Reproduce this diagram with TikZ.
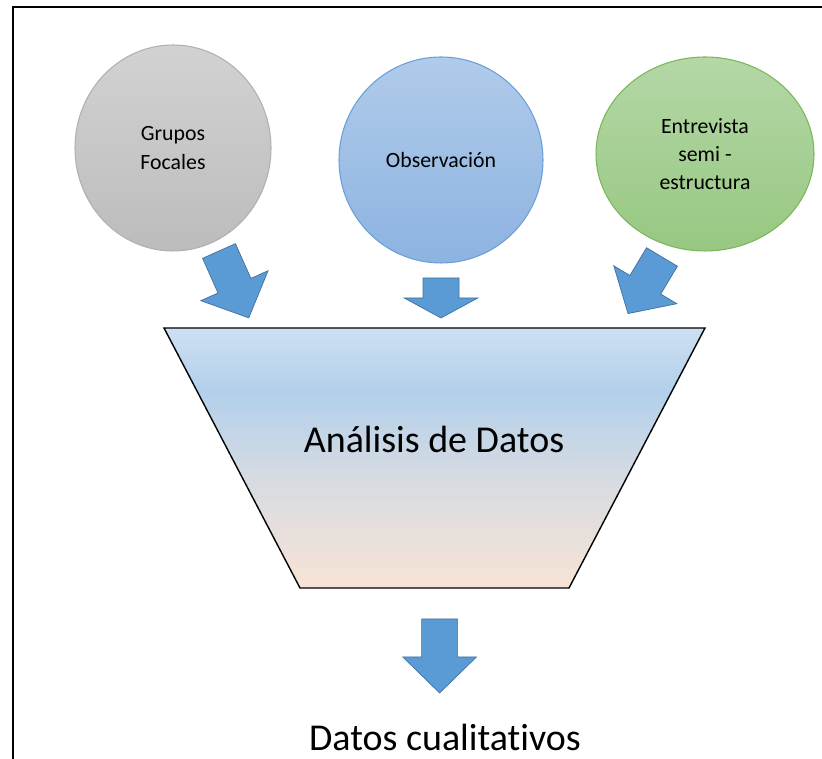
\documentclass[tikz,border=0pt]{standalone}
\usepackage{fontspec}
\setmainfont{Carlito}[Ligatures=NoCommon]
\usepackage{xcolor}
\usepackage{tikz}
\usetikzlibrary{shapes.geometric}

\definecolor{arrowblue}{HTML}{5B9BD5}
\definecolor{arrowedge}{HTML}{41719C}
\definecolor{graytop}{HTML}{D2D2D2}
\definecolor{graybot}{HTML}{BCBCBC}
\definecolor{grayedge}{HTML}{B0B0B0}
\definecolor{bluetop}{HTML}{B0CBEA}
\definecolor{bluebot}{HTML}{8DB3E1}
\definecolor{blueedge}{HTML}{6A9FD8}
\definecolor{greentop}{HTML}{B4D7A6}
\definecolor{greenbot}{HTML}{97C882}
\definecolor{greenedge}{HTML}{7DB55A}
\definecolor{funneltop}{HTML}{CDE0F2}
\definecolor{funnelblue}{HTML}{B2D0EB}
\definecolor{funnelgray}{HTML}{D6DBE2}
\definecolor{funnelpeach}{HTML}{F8E3D5}

\pgfdeclareverticalshading{funnel}{100bp}{color(0bp)=(funnelpeach); color(25bp)=(funnelpeach); color(46bp)=(funnelgray); color(63bp)=(funnelblue); color(75bp)=(funneltop); color(100bp)=(funneltop)}

\tikzset{
  bubble/.style={ellipse, inner sep=0pt, align=center, line width=0.75pt, font=\fontsize{15.5}{20}\selectfont},
  blockarrow/.style={fill=arrowblue, draw=arrowedge, line width=0.5pt, line join=miter},
  bigtext/.style={anchor=base, font=\fontsize{27}{32}\selectfont}
}

% #1 shift, #2 rotation, #3 shaft length, #4 total length
\newcommand{\blockarr}[4]{%
\begin{scope}[shift={#1}, rotate=#2]
\draw[blockarrow] (-0.45,0)--(0.45,0)--(0.45,-#3)--(0.92,-#3)--(0,-#4)--(-0.92,-#3)--(-0.45,-#3)--cycle;
\end{scope}}

\begin{document}
\begin{tikzpicture}[scale=1]

\useasboundingbox (0,0) rectangle (20.55,18.975);

% frame
\draw[black, line width=1.2pt] (0.325,-1)--(0.325,18.8)--(21,18.8);

% sources
\node (grupos) at (4.325,15.275) [bubble, minimum width=4.9cm, minimum height=5.15cm, top color=graytop, bottom color=graybot, draw=grayedge] {Grupos\\Focales};
\node (obs) at (11.025,14.975) [bubble, minimum width=5.1cm, minimum height=5.15cm, top color=bluetop, bottom color=bluebot, draw=blueedge] {Observación};
\node (entrevista) at (17.625,15.125) [bubble, minimum width=5.45cm, minimum height=4.85cm, top color=greentop, bottom color=greenbot, draw=greenedge] {Entrevista\\semi -\\estructura};

\blockarr{(5.475,12.7)}{24}{0.95}{1.83}
\blockarr{(11.025,12.025)}{0}{0.5}{1.0}
\blockarr{(16.55,12.55)}{-31}{0.81}{1.65}

% funnel
\draw[black, shading=funnel, line width=1pt] (4.1,10.775)--(17.625,10.775)--(14.225,4.275)--(7.5,4.275)--cycle;
\node (analisis) at (10.85,7.65) [bigtext] {Análisis de Datos};

\blockarr{(10.99,3.5)}{0}{0.95}{1.85}

\node (resultado) at (11.125,0.21) [bigtext] {Datos cualitativos};

\end{tikzpicture}
\end{document}
